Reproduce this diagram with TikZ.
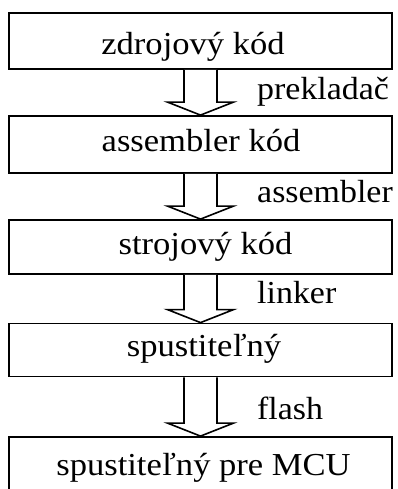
\documentclass[tikz,border=0pt]{standalone}
\usepackage{fontspec}
\setmainfont{Liberation Serif}
\usetikzlibrary{calc}
\newcommand{\wtxt}[1]{\scalebox{1.08}[1]{#1}}
\newcommand{\ltxt}[1]{\scalebox{1.06}[1]{#1}}
\tikzset{
  box/.style={draw=black, line width=1.8pt, minimum width=383pt, inner sep=0pt, fill=white},
  txt/.style={anchor=base, inner sep=0pt, font=\fontsize{32}{36}\selectfont},
  lab/.style={anchor=base west, inner sep=0pt, font=\fontsize{32}{36}\selectfont},
  barrow/.style={draw=black, line width=1.6pt, line join=miter, fill=white}
}
\newcommand{\blockarrow}[2]{%
  \draw[barrow] ($(#1.south)+(-16.5,0)$) -- ($(#2.north)+(-16.5,-13)$) -- ($(#2.north)+(-33,-13)$)
    -- (#2.north) -- ($(#2.north)+(33,-13)$) -- ($(#2.north)+(16.5,-13)$) -- ($(#1.south)+(16.5,0)$);}
\begin{document}
\begin{tikzpicture}[x=1pt,y=-1pt]
\clip (0,0) rectangle (397,489);
\fill[white] (0,0) rectangle (397,489);
\node[box, minimum height=56pt] (b1) at (200.5,41) {};
\node[box, minimum height=57pt] (b2) at (200.5,144.5) {};
\node[box, minimum height=54pt] (b3) at (200.5,247) {};
\node[box, minimum height=53pt] (b4) at (200.5,350) {};
\node[box, minimum height=60pt] (b5) at (200.5,467) {};
\node[txt] (t1) at (193,55) {\wtxt{zdrojový kód}};
\node[txt] (t2) at (201,151.5) {\wtxt{assembler kód}};
\node[txt] (t3) at (205.5,254) {\wtxt{strojový kód}};
\node[txt] (t4) at (204,356) {\wtxt{spustiteľný}};
\node[txt] (t5) at (203.5,475) {\wtxt{spustiteľný pre MCU}};
\blockarrow{b1}{b2}
\blockarrow{b2}{b3}
\blockarrow{b3}{b4}
\blockarrow{b4}{b5}
\node[lab] (l1) at (257,100) {\ltxt{prekladač}};
\node[lab] (l2) at (257,202) {\ltxt{assembler}};
\node[lab] (l3) at (257,303) {\ltxt{linker}};
\node[lab] (l4) at (257,419) {\ltxt{flash}};
\end{tikzpicture}
\end{document}
